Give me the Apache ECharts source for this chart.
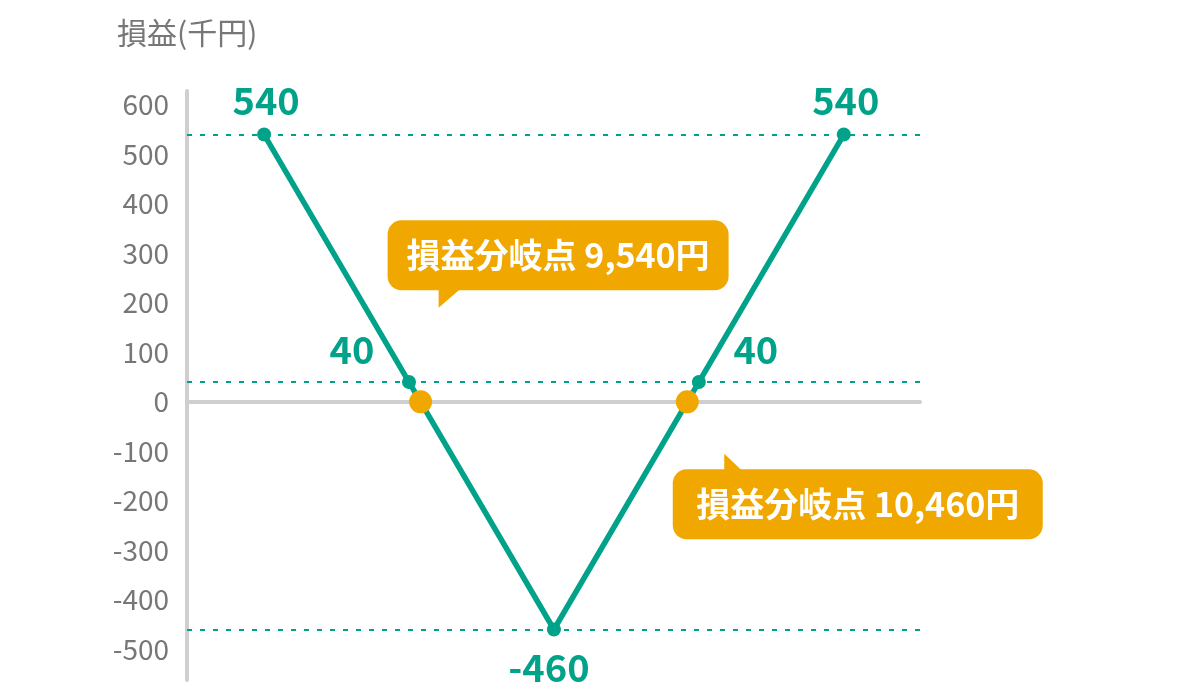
<!DOCTYPE html>
<html>
<head>
<meta charset="utf-8">
<title>損益グラフ</title>
<script src="https://cdn.jsdelivr.net/npm/echarts@6/dist/echarts.min.js"></script>
<style>
  html, body { margin: 0; padding: 0; background: #fff; }
  #main { width: 1200px; height: 700px; }
</style>
</head>
<body>
<div id="main"></div>
<script>
// 原資産価格(円) と 損益(千円)
var prices = [9000, 9500, 10000, 10500, 11000];
var pnl = [540, 40, -460, 40, 540];
// 損益分岐点
var breakEvens = [9540, 10460];
var breakEvenTexts = ['損益分岐点 9,540円', '損益分岐点 10,460円'];
// 目盛り
var yTicks = [-500, -400, -300, -200, -100, 0, 100, 200, 300, 400, 500, 600];
var refLines = [540, 40, -460];

var TEAL = '#00a38a';
var ORANGE = '#f0a800';
var FONT = '"Noto Sans CJK JP", "Noto Sans", sans-serif';

// 値ラベルの置き方 (上・左上・下・右上・上)
var labelPos = [
  { position: 'top', distance: 7, offset: [2, 0] },
  { position: 'top', distance: 5, offset: [-57, 0] },
  { position: 'bottom', distance: 11, offset: [-5, 0] },
  { position: 'top', distance: 5, offset: [57, 0] },
  { position: 'top', distance: 7, offset: [2, 0] }
];

var lineData = prices.map(function (p, i) {
  return {
    value: [p, pnl[i]],
    label: labelPos[i]
  };
});

var beData = breakEvens.map(function (p, i) {
  return {
    value: [p, 0],
    label: i === 0
      ? { position: [149, -135], width: 303, padding: [15, 19] }
      : { position: [182, 114], width: 328, padding: [15, 21] }
  };
});

var myChart = echarts.init(document.getElementById('main'));

myChart.setOption({
  animation: false,
  textStyle: { fontFamily: FONT },
  title: {
    text: '損益(千円)',
    left: 112,
    top: 13,
    textStyle: { fontSize: 30, color: '#777', fontWeight: 'normal', fontFamily: FONT }
  },
  grid: { left: 187, right: 280, top: 91, bottom: 20 },
  xAxis: {
    type: 'value',
    min: 8734,
    max: 11263,
    axisLine: { onZero: true, lineStyle: { color: '#cfcfcf', width: 4, cap: 'round' } },
    axisTick: { show: false },
    axisLabel: { show: false },
    splitLine: { show: false }
  },
  yAxis: {
    type: 'value',
    min: -562,
    max: 628,
    axisLine: { show: true, lineStyle: { color: '#cfcfcf', width: 4, cap: 'round' } },
    axisTick: { show: false },
    splitLine: { show: false },
    axisLabel: {
      customValues: yTicks,
      margin: 18,
      fontSize: 28,
      color: '#777',
      fontFamily: FONT
    }
  },
  series: [
    {
      type: 'line',
      data: lineData,
      z: 2,
      symbol: 'circle',
      symbolSize: 14,
      lineStyle: { color: TEAL, width: 5.5 },
      itemStyle: { color: TEAL },
      label: {
        show: true,
        fontSize: 38,
        lineHeight: 40,
        fontWeight: 'bold',
        color: TEAL,
        fontFamily: FONT,
        formatter: function (p) { return p.value[1]; }
      },
      markLine: {
        silent: true,
        symbol: 'none',
        label: { show: false },
        lineStyle: { color: TEAL, type: [5, 8], width: 2 },
        data: refLines.map(function (v) { return { yAxis: v }; })
      }
    },
    {
      type: 'scatter',
      data: beData,
      z: 4,
      symbolSize: 23,
      itemStyle: { color: ORANGE, opacity: 1 },
      label: {
        show: true,
        align: 'center',
        verticalAlign: 'middle',
        lineHeight: 40,
        fontSize: 34,
        fontWeight: 'bold',
        color: '#fff',
        fontFamily: FONT,
        backgroundColor: ORANGE,
        borderRadius: 14,
        formatter: function (p) { return breakEvenTexts[p.dataIndex]; }
      }
    }
  ]
});

// 吹き出しのしっぽ
var p1 = myChart.convertToPixel({ gridIndex: 0 }, [breakEvens[0], 0]);
var p2 = myChart.convertToPixel({ gridIndex: 0 }, [breakEvens[1], 0]);
myChart.setOption({
  graphic: [
    {
      type: 'polygon',
      z: 5,
      shape: { points: [[p1[0] + 18, p1[1] - 94], [p1[0] + 18, p1[1] - 113], [p1[0] + 40, p1[1] - 113]] },
      style: { fill: ORANGE }
    },
    {
      type: 'polygon',
      z: 5,
      shape: { points: [[p2[0] + 37, p2[1] + 52], [p2[0] + 37, p2[1] + 71], [p2[0] + 57, p2[1] + 71]] },
      style: { fill: ORANGE }
    }
  ]
});
</script>
</body>
</html>
